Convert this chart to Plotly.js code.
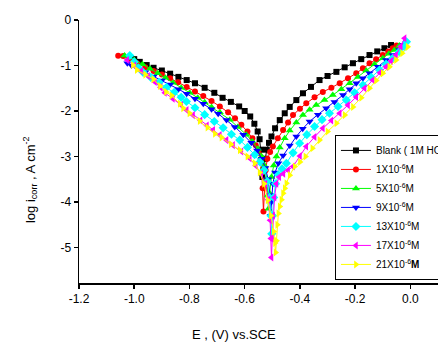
<!DOCTYPE html>
<html>
<head>
<meta charset="utf-8">
<script src="https://cdn.plot.ly/plotly-3.0.1.min.js"></script>
<style>html,body{margin:0;padding:0;background:#fff;}#chart{width:438px;height:342px;}</style>
</head>
<body>
<div id="chart"></div>
<script>
// Series names
const seriesNames = [
  "Blank ( 1M HCl )",
  "1X10<sup>-6</sup>M",
  "5X10<sup>-6</sup>M",
  "9X10<sup>-6</sup>M",
  "13X10<sup>-6</sup>M",
  "17X10<sup>-6</sup>M",
  "21X10<sup>-6</sup><b>M</b>"
];

// Blank
const blankE = [-1.00,-0.98,-0.955,-0.93,-0.90,-0.87,-0.84,-0.81,-0.78,-0.745,-0.71,-0.68,-0.65,-0.62,-0.60,-0.58,-0.565,-0.553,-0.546,-0.541,-0.538,-0.536,
  -0.532,-0.526,-0.52,-0.512,-0.503,-0.49,-0.473,-0.455,-0.437,-0.413,-0.389,-0.36,-0.329,-0.30,-0.268,-0.238,-0.208,-0.178,-0.148,-0.12,-0.094,-0.07];
const blankI = [-0.86,-0.92,-0.99,-1.05,-1.11,-1.18,-1.25,-1.32,-1.39,-1.49,-1.60,-1.71,-1.80,-1.90,-2.00,-2.12,-2.28,-2.45,-2.62,-2.85,-3.10,-3.45,
  -3.30,-3.05,-2.85,-2.70,-2.56,-2.38,-2.20,-2.05,-1.91,-1.76,-1.61,-1.47,-1.32,-1.23,-1.14,-1.04,-0.95,-0.86,-0.77,-0.69,-0.62,-0.55];

// 1X10^-6 M
const c1E = [-1.058,-1.04,-1.02,-0.99,-0.96,-0.93,-0.90,-0.87,-0.841,-0.81,-0.78,-0.75,-0.72,-0.69,-0.66,-0.635,-0.612,-0.59,-0.572,-0.56,-0.55,-0.543,-0.538,-0.535,-0.532,
  -0.528,-0.524,-0.518,-0.508,-0.498,-0.48,-0.461,-0.443,-0.425,-0.40,-0.377,-0.347,-0.317,-0.286,-0.256,-0.226,-0.196,-0.172,-0.148,-0.124,-0.10,-0.08,-0.064,-0.05];
const c1I = [-0.785,-0.79,-0.86,-0.95,-1.04,-1.12,-1.20,-1.28,-1.37,-1.47,-1.57,-1.67,-1.78,-1.90,-2.03,-2.16,-2.30,-2.45,-2.60,-2.75,-2.92,-3.10,-3.35,-3.70,-4.21,
  -3.70,-3.30,-3.05,-2.90,-2.78,-2.60,-2.42,-2.25,-2.09,-1.95,-1.83,-1.70,-1.58,-1.49,-1.39,-1.28,-1.17,-1.06,-0.95,-0.86,-0.77,-0.69,-0.62,-0.56];

// 5X10^-6 M
const c5E = [-1.035,-1.02,-1.00,-0.97,-0.943,-0.915,-0.887,-0.859,-0.83,-0.799,-0.77,-0.745,-0.72,-0.69,-0.654,-0.625,-0.594,-0.572,-0.552,-0.538,-0.528,-0.52,-0.516,-0.514,
  -0.51,-0.503,-0.495,-0.485,-0.473,-0.455,-0.437,-0.413,-0.389,-0.365,-0.341,-0.311,-0.281,-0.25,-0.22,-0.19,-0.16,-0.13,-0.10,-0.078,-0.058,-0.04];
const c5I = [-0.78,-0.80,-0.88,-0.97,-1.07,-1.17,-1.27,-1.38,-1.49,-1.60,-1.71,-1.81,-1.91,-2.03,-2.19,-2.35,-2.52,-2.67,-2.83,-3.00,-3.20,-3.50,-3.85,-4.15,
  -3.80,-3.45,-3.20,-3.00,-2.80,-2.60,-2.43,-2.25,-2.09,-1.97,-1.87,-1.76,-1.65,-1.52,-1.39,-1.25,-1.11,-0.97,-0.84,-0.74,-0.66,-0.56];

// 9X10^-6 M
const c9E = [-1.025,-1.01,-0.99,-0.96,-0.93,-0.90,-0.87,-0.84,-0.81,-0.78,-0.75,-0.72,-0.696,-0.666,-0.636,-0.605,-0.576,-0.555,-0.538,-0.525,-0.515,-0.509,-0.506,
  -0.503,-0.498,-0.49,-0.478,-0.461,-0.437,-0.413,-0.39,-0.365,-0.335,-0.305,-0.275,-0.244,-0.22,-0.196,-0.172,-0.148,-0.118,-0.088,-0.064,-0.04,-0.025];
const c9I = [-0.95,-1.00,-1.06,-1.15,-1.24,-1.33,-1.42,-1.52,-1.62,-1.73,-1.84,-1.96,-2.06,-2.20,-2.35,-2.52,-2.70,-2.87,-3.05,-3.25,-3.50,-3.85,-4.30,
  -4.00,-3.60,-3.35,-3.15,-2.98,-2.76,-2.56,-2.39,-2.23,-2.08,-1.94,-1.80,-1.65,-1.52,-1.39,-1.28,-1.17,-1.03,-0.88,-0.77,-0.66,-0.55];

// 13X10^-6 M
const c13E = [-1.016,-1.00,-0.985,-0.968,-0.94,-0.91,-0.883,-0.855,-0.83,-0.811,-0.78,-0.745,-0.71,-0.678,-0.648,-0.618,-0.59,-0.564,-0.545,-0.53,-0.518,-0.51,-0.505,-0.502,
  -0.499,-0.495,-0.488,-0.478,-0.465,-0.449,-0.425,-0.401,-0.375,-0.347,-0.32,-0.293,-0.262,-0.232,-0.202,-0.172,-0.142,-0.112,-0.088,-0.064,-0.04,-0.021,-0.014];
const c13I = [-0.78,-0.92,-1.05,-1.15,-1.26,-1.37,-1.48,-1.59,-1.70,-1.79,-1.93,-2.08,-2.23,-2.37,-2.51,-2.64,-2.80,-2.96,-3.12,-3.30,-3.55,-3.90,-4.30,-4.70,
  -4.30,-3.90,-3.60,-3.40,-3.27,-3.15,-2.92,-2.71,-2.52,-2.34,-2.19,-2.05,-1.90,-1.76,-1.60,-1.43,-1.26,-1.10,-0.97,-0.84,-0.70,-0.59,-0.48];

// 17X10^-6 M
const c17E = [-1.026,-1.00,-0.975,-0.95,-0.925,-0.905,-0.889,-0.86,-0.83,-0.81,-0.787,-0.76,-0.737,-0.714,-0.69,-0.666,-0.642,-0.612,-0.582,-0.56,-0.54,-0.525,-0.515,-0.508,-0.505,-0.503,
  -0.50,-0.497,-0.492,-0.485,-0.475,-0.46,-0.443,-0.425,-0.40,-0.377,-0.347,-0.317,-0.286,-0.256,-0.226,-0.196,-0.166,-0.136,-0.11,-0.088,-0.07,-0.052,-0.035,-0.021];
const c17I = [-0.88,-1.00,-1.12,-1.23,-1.36,-1.48,-1.60,-1.73,-1.87,-1.98,-2.09,-2.21,-2.32,-2.42,-2.53,-2.64,-2.75,-2.89,-3.04,-3.20,-3.38,-3.60,-3.95,-4.40,-4.80,-5.22,
  -4.80,-4.30,-3.90,-3.60,-3.45,-3.38,-3.30,-3.22,-2.99,-2.78,-2.57,-2.38,-2.21,-2.05,-1.87,-1.69,-1.50,-1.32,-1.16,-1.03,-0.90,-0.77,-0.58,-0.40];

// 21X10^-6 M
const c21E = [-1.005,-0.991,-0.96,-0.931,-0.907,-0.885,-0.865,-0.835,-0.823,-0.80,-0.763,-0.735,-0.708,-0.684,-0.65,-0.618,-0.59,-0.564,-0.546,-0.53,-0.517,-0.505,-0.495,-0.49,-0.488,
  -0.485,-0.482,-0.478,-0.473,-0.467,-0.461,-0.455,-0.449,-0.437,-0.419,-0.40,-0.38,-0.355,-0.329,-0.30,-0.268,-0.238,-0.208,-0.178,-0.148,-0.124,-0.10,-0.076,-0.052,-0.03,-0.01];
const c21I = [-0.99,-1.10,-1.20,-1.30,-1.45,-1.58,-1.66,-1.84,-1.94,-2.05,-2.22,-2.36,-2.50,-2.58,-2.73,-2.86,-3.00,-3.15,-3.35,-3.60,-3.96,-4.30,-4.65,-4.90,-5.11,
  -4.85,-4.50,-4.25,-4.10,-3.95,-3.81,-3.70,-3.59,-3.41,-3.22,-3.12,-3.00,-2.82,-2.64,-2.45,-2.27,-2.09,-1.91,-1.71,-1.50,-1.33,-1.17,-1.03,-0.88,-0.73,-0.59];

// Axis ticks
const xTickVals = [-1.2,-1.0,-0.8,-0.6,-0.4,-0.2,0.0];
const xTickText = ["-1.2","-1.0","-0.8","-0.6","-0.4","-0.2","0.0"];
const yTickVals = [0,-1,-2,-3,-4,-5];
const yTickText = ["0","-1","-2","-3","-4","-5"];

const xs = [blankE,c1E,c5E,c9E,c13E,c17E,c21E];
const ys = [blankI,c1I,c5I,c9I,c13I,c17I,c21I];
const colors = ["#000000","#ff0000","#00ff00","#0000ff","#00ffff","#ff00ff","#ffff00"];
const symbols = ["square","circle","triangle-up","triangle-down","diamond","triangle-left","triangle-right"];
const sizes = [6,6,7,7,7,7,7];

const traces = xs.map((x,i)=>({
  x: x, y: ys[i], name: seriesNames[i], type: "scatter", mode: "lines+markers",
  line: {color: colors[i], width: 1},
  marker: {color: colors[i], symbol: symbols[i], size: sizes[i], line: {width: 0}}
}));

const fnt = "Arial, 'Liberation Sans', sans-serif";
const layout = {
  width: 438, height: 342,
  margin: {l: 79, r: 0, t: 20, b: 59, autoexpand: false},
  paper_bgcolor: "#fff", plot_bgcolor: "#fff",
  font: {family: fnt, size: 12, color: "#000"},
  showlegend: true,
  xaxis: {
    range: [-1.2, 0.1], showgrid: false, zeroline: false, showline: true, linewidth: 1.5, linecolor: "#000",
    ticks: "outside", ticklen: 4, tickwidth: 1.5, tickcolor: "#000",
    tickvals: xTickVals, ticktext: xTickText, tickfont: {family: fnt, size: 12}
  },
  yaxis: {
    range: [-5.78, 0], showgrid: false, zeroline: false, showline: true, linewidth: 1.5, linecolor: "#000",
    ticks: "outside", ticklen: 4, tickwidth: 1.5, tickcolor: "#000",
    tickvals: yTickVals, ticktext: yTickText, tickfont: {family: fnt, size: 12}
  },
  legend: {
    x: 0.713, y: 0.563, xanchor: "left", yanchor: "top",
    bgcolor: "#fff", bordercolor: "#000", borderwidth: 1,
    font: {family: fnt, size: 10, color: "#000"},
    tracegroupgap: 0, itemwidth: 30
  },
  annotations: [
    {text: "E , (V) vs.SCE", xref: "paper", yref: "paper", x: 0.432, y: -0.194, xanchor: "center", yanchor: "middle",
     showarrow: false, font: {family: fnt, size: 13}},
    {text: "log i<sub>corr</sub> , A cm<sup>-2</sup>", xref: "paper", yref: "paper", x: -0.136, y: 0.392, xanchor: "center", yanchor: "middle",
     textangle: -90, showarrow: false, font: {family: fnt, size: 13}}
  ]
};

Plotly.newPlot("chart", traces, layout, {displayModeBar: false, staticPlot: true});
</script>
</body>
</html>
